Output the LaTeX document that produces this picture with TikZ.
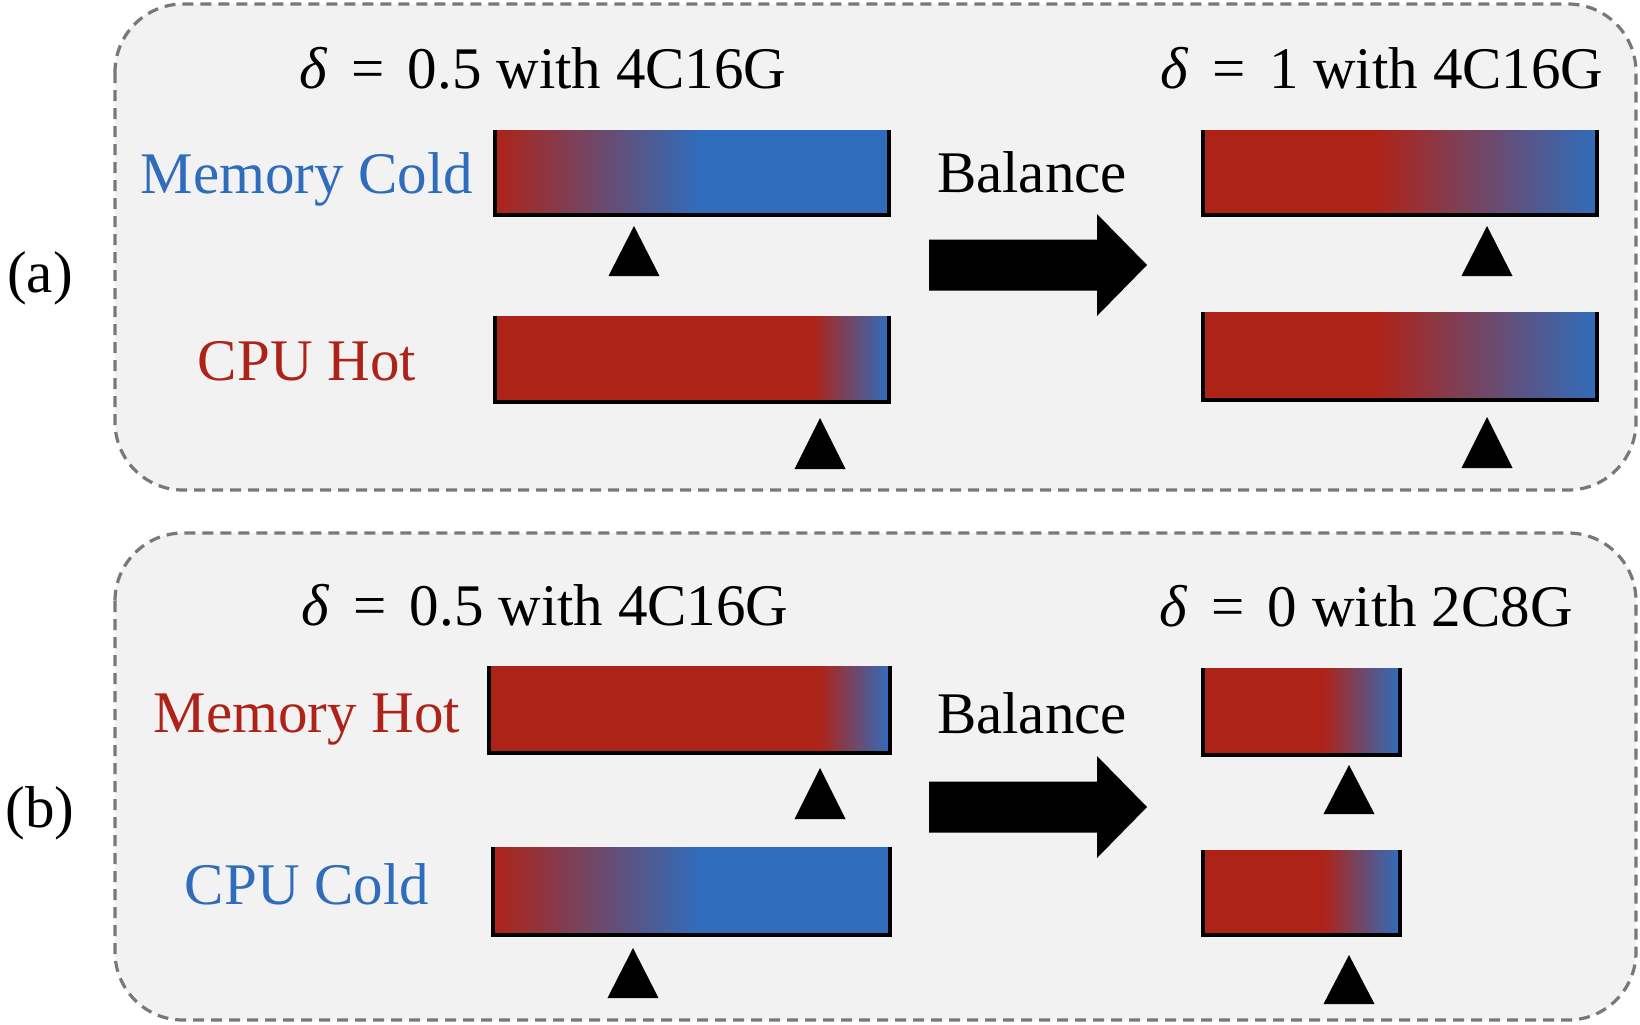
\documentclass[tikz,border=0pt]{standalone}
\usepackage{fontspec}
\setmainfont{Liberation Serif}
\definecolor{cred}{RGB}{174,35,24}
\definecolor{cblue}{RGB}{47,109,188}
\definecolor{panelbg}{RGB}{242,242,242}
\definecolor{panelline}{RGB}{120,120,120}
% #1 outer left, #2 outer right, #3 top, #4 outer bottom, #5 red end, #6 blue start
\newcommand{\heatbar}[6]{%
  \fill[cred] (#1+2,#3) rectangle (#5+1,#4-2);
  \shade[left color=cred,right color=cblue] (#5,#3) rectangle (#6,#4-2);
  \fill[cblue] (#6-1,#3) rectangle (#2-2,#4-2);
  \draw[barline] (#1+2,#3) -- (#1+2,#4-2) -- (#2-2,#4-2) -- (#2-2,#3);
}
% #1 apex x, #2 apex y, #3 base y
\newcommand{\pointer}[3]{%
  \fill[black] (#1-25.5,#3) -- (#1,#2) -- (#1+25.5,#3) -- cycle;
}
% #1 centre y
\newcommand{\blockarrow}[1]{%
  \fill[black] (929,#1-25.5) -- (1097,#1-25.5) -- (1097,#1-51) -- (1147,#1)
    -- (1097,#1+51) -- (1097,#1+25.5) -- (929,#1+25.5) -- cycle;
}
\tikzset{
  panel/.style={draw=panelline, fill=panelbg, line width=1.6pt,
    dash pattern=on 5.5pt off 3.5pt, rounded corners=34pt},
  barline/.style={line width=2.2pt, line join=miter, line cap=butt},
  txt/.style={font=\fontsize{29.5}{32}\selectfont, anchor=base, inner sep=0pt},
}
\begin{document}
\begin{tikzpicture}[x=0.5pt,y=-0.5pt]
\useasboundingbox (0,0) rectangle (1640,1024);

% panels
\draw[panel] (115,4) rectangle (1636,490);
\draw[panel] (115,533) rectangle (1636,1020);

% panel labels
\node[txt] (la) at (40,292) {(a)};
\node[txt] (lb) at (40,827) {(b)};

% titles
\node[txt] (ta1) at (543,88) {\textit{δ}\hspace{0.15em} = \hspace{0.15em}0.5 with 4C16G};
\node[txt] (ta2) at (1382,88) {\textit{δ}\hspace{0.15em} = \hspace{0.15em}1 with 4C16G};
\node[txt] (tb1) at (545,625) {\textit{δ}\hspace{0.15em} = \hspace{0.15em}0.5 with 4C16G};
\node[txt] (tb2) at (1366,626) {\textit{δ}\hspace{0.15em} = \hspace{0.15em}0 with 2C8G};

% row labels
\node[txt, text=cblue] (memcold) at (307,193) {Memory Cold};
\node[txt, text=cred] (cpuhot) at (307,380) {CPU Hot};
\node[txt, text=cred] (memhot) at (307,732) {Memory Hot};
\node[txt, text=cblue] (cpucold) at (307,904) {CPU Cold};

% balance
\node[txt] (bala) at (1032,192) {Balance};
\node[txt] (balb) at (1032,733) {Balance};
\blockarrow{265}
\blockarrow{807}

% bars (a)
\heatbar{493}{891}{130}{217}{495}{700}
\heatbar{493}{891}{316}{404}{813}{889}
\heatbar{1201}{1599}{130}{217}{1377}{1597}
\heatbar{1201}{1599}{312}{402}{1377}{1597}
% bars (b)
\heatbar{487}{892}{666}{755}{820}{890}
\heatbar{491}{892}{847}{937}{493}{700}
\heatbar{1201}{1402}{668}{757}{1323}{1400}
\heatbar{1201}{1402}{850}{937}{1323}{1400}

% pointers
\pointer{634}{226}{276}
\pointer{820}{418}{469}
\pointer{1487}{226}{276}
\pointer{1487}{417}{468}
\pointer{820}{768}{819}
\pointer{633}{948}{998}
\pointer{1349}{765}{814}
\pointer{1349}{955}{1004}
\end{tikzpicture}
\end{document}
